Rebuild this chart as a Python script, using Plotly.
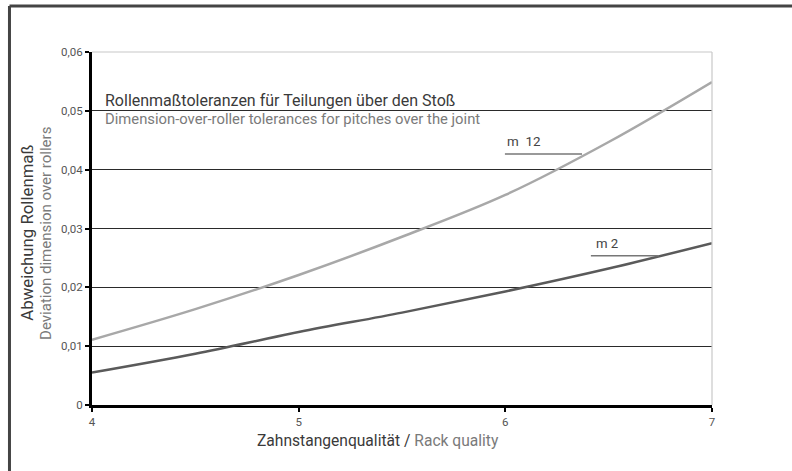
import plotly.graph_objects as go

# Rack quality grade (x) and dimension-over-roller deviation (y, mm)
quality = [4, 4.5, 5, 5.5, 6, 6.5, 7]
dev_m12 = [0.0111, 0.0163, 0.0221, 0.0286, 0.0357, 0.0447, 0.0549]
dev_m2 = [0.0055, 0.0087, 0.0124, 0.0157, 0.0193, 0.0232, 0.0275]

y_ticks = [0, 0.01, 0.02, 0.03, 0.04, 0.05, 0.06]
y_tick_text = ["0", "0,01", "0,02", "0,03", "0,04", "0,05", "0,06"]
x_ticks = [4, 5, 6, 7]

DARK = "#3a3a3a"
LIGHT = "#7a7a7a"
FONT = "Roboto"

fig = go.Figure()
fig.add_trace(go.Scatter(x=quality, y=dev_m12, mode="lines",
                         line=dict(color="#a8a8a8", width=2.5, shape="spline"),
                         hoverinfo="skip"))
fig.add_trace(go.Scatter(x=quality, y=dev_m2, mode="lines",
                         line=dict(color="#5a5a5a", width=2.5, shape="spline"),
                         hoverinfo="skip"))

annotations = [
    dict(x=4.053, y=0.0518, xref="x", yref="y", xanchor="left", yanchor="middle",
         text="Rollenmaßtoleranzen für Teilungen über den Stoß",
         font=dict(family=FONT, size=16, color=DARK), showarrow=False),
    dict(x=4.053, y=0.0486, xref="x", yref="y", xanchor="left", yanchor="middle",
         text="Dimension-over-roller tolerances for pitches over the joint",
         font=dict(family=FONT, size=14.8, color=LIGHT), showarrow=False),
    dict(x=6.09, y=0.0448, xref="x", yref="y", xanchor="center", yanchor="middle",
         text="m  12", font=dict(family=FONT, size=13.4, color="#444"), showarrow=False),
    dict(x=6.49, y=0.0275, xref="x", yref="y", xanchor="center", yanchor="middle",
         text="m 2", font=dict(family=FONT, size=13.2, color="#444"), showarrow=False),
    dict(x=-0.1055, y=0.487, xref="paper", yref="paper", textangle=-90,
         xanchor="center", yanchor="middle", text="Abweichung Rollenmaß",
         font=dict(family=FONT, size=16.8, color=DARK), showarrow=False),
    dict(x=-0.0745, y=0.487, xref="paper", yref="paper", textangle=-90,
         xanchor="center", yanchor="middle", text="Deviation dimension over rollers",
         font=dict(family=FONT, size=15, color=LIGHT), showarrow=False),
    dict(x=0.462, y=-0.102, xref="paper", yref="paper", xanchor="center", yanchor="middle",
         text=f"<span style='color:{DARK}'>Zahnstangenqualität /</span> "
              f"<span style='color:{LIGHT}'>Rack quality</span>",
         font=dict(family=FONT, size=15.6), showarrow=False),
]

shapes = [
    # label leader lines
    dict(type="line", xref="x", yref="y", x0=5.998, x1=6.371, y0=0.04266, y1=0.04266,
         line=dict(color="#777", width=1.5)),
    dict(type="line", xref="x", yref="y", x0=6.414, x1=6.743, y0=0.02538, y1=0.02538,
         line=dict(color="#777", width=1.5)),
    # light top and right plot borders
    dict(type="line", xref="paper", yref="paper", x0=0, x1=1, y0=1, y1=1,
         line=dict(color="#c8c8c8", width=1.2), layer="above"),
    dict(type="line", xref="paper", yref="paper", x0=1, x1=1, y0=0, y1=1,
         line=dict(color="#c8c8c8", width=1.2), layer="above"),
    # outer frame (top and left)
    dict(type="line", xref="paper", yref="paper", x0=-0.1331, x1=1.2, y0=1.1303, y1=1.1303,
         line=dict(color="#444", width=3)),
    dict(type="line", xref="paper", yref="paper", x0=-0.1331, x1=-0.1331, y0=-0.2, y1=1.1303,
         line=dict(color="#444", width=3)),
]

fig.update_layout(
    width=792, height=471,
    margin=dict(l=92, r=80, t=52, b=66),
    paper_bgcolor="white", plot_bgcolor="white",
    showlegend=False,
    annotations=annotations,
    shapes=shapes,
    xaxis=dict(range=[4, 7], tickvals=x_ticks, showgrid=False, zeroline=False,
               showline=True, linecolor="black", linewidth=3,
               ticks="outside", ticklen=4, tickwidth=2, tickcolor="black",
               tickfont=dict(family=FONT, size=11.5, color="#555")),
    yaxis=dict(range=[0, 0.06], tickvals=y_ticks, ticktext=y_tick_text,
               showgrid=True, gridcolor="#2a2a2a", gridwidth=1, zeroline=False,
               showline=True, linecolor="black", linewidth=3,
               ticks="outside", ticklen=4, tickwidth=2, tickcolor="black",
               tickfont=dict(family=FONT, size=11.5, color="#555")),
)

fig.write_html("out.html")
